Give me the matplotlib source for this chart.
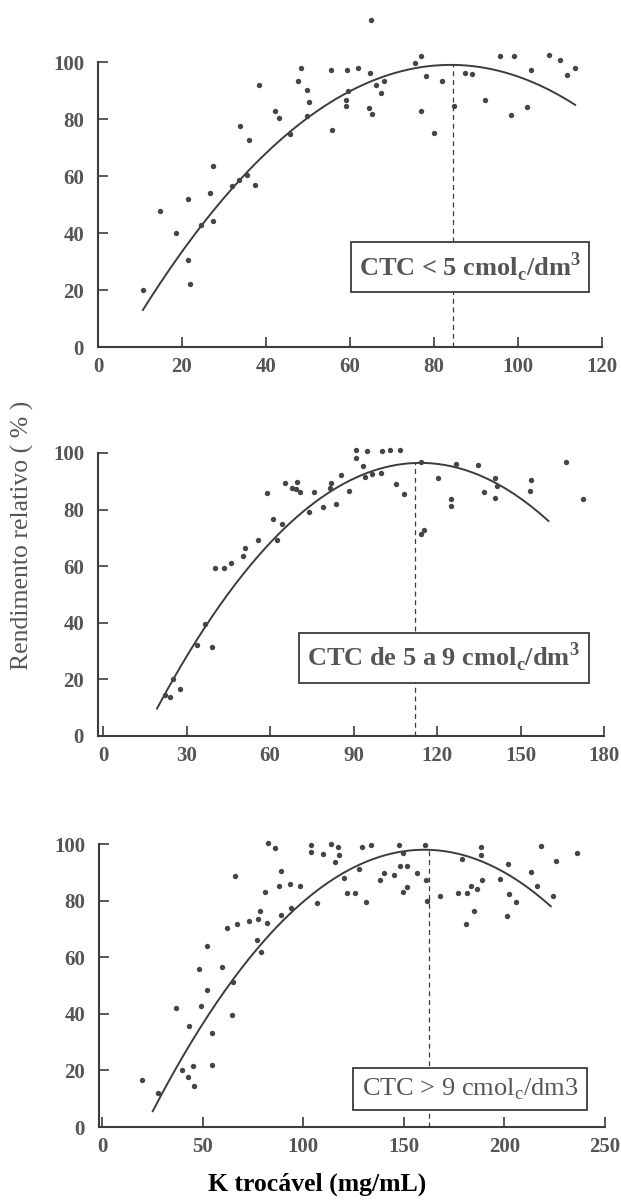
import numpy as np
import matplotlib
matplotlib.use('Agg')
import matplotlib.pyplot as plt

plt.rcParams['font.family'] = ['Liberation Serif', 'DejaVu Serif']
plt.rcParams['mathtext.fontset'] = 'custom'
plt.rcParams['mathtext.rm'] = 'Liberation Serif'

# painel 1: CTC < 5
x1 = [10.8, 14.8, 18.5, 21.4, 21.4, 21.9, 24.6, 26.7, 27.3, 27.5, 31.8, 33.6, 35.5, 37.5,
      33.9, 36.0, 38.4, 42.2, 43.0, 45.7, 47.6, 48.3, 49.8, 50.2, 49.8, 55.4, 55.8, 59.3,
      59.6, 59.0, 59.0, 61.9, 64.8, 65.1, 66.1, 68.1, 67.3, 64.5, 65.3, 75.5, 76.9, 78.2,
      76.9, 80.1, 82.0, 84.7, 87.4, 89.0, 92.2, 95.8, 99.0, 98.4, 102.2, 103.2, 107.5,
      110.0, 111.7, 113.5]
y1 = [20.0, 47.6, 40.0, 52.1, 30.7, 22.2, 42.7, 53.9, 44.1, 63.5, 56.5, 58.5, 60.2, 57.0,
      77.7, 72.6, 92.0, 82.7, 80.4, 74.9, 93.5, 98.0, 90.3, 86.1, 81.1, 97.1, 76.1, 97.1,
      89.8, 86.6, 84.5, 98.0, 96.1, 114.9, 91.8, 93.4, 89.2, 83.9, 81.7, 99.7, 102.0, 95.1,
      82.8, 75.2, 93.4, 84.7, 96.1, 95.9, 86.8, 102.0, 102.0, 81.5, 84.3, 97.2, 102.3,
      100.8, 95.6, 98.0]

# painel 2: CTC de 5 a 9
x2 = [22.3, 24.1, 25.3, 27.5, 33.7, 36.8, 39.0, 40.1, 43.6, 46.0, 50.4, 50.9, 55.8, 61.0,
      64.2, 62.5, 58.8, 65.2, 68.0, 69.6, 69.4, 70.9, 74.0, 75.8, 79.2, 81.4, 81.9, 83.7,
      85.5, 88.3, 90.9, 94.8, 90.7, 93.3, 94.1, 96.8, 99.7, 100.1, 103.2, 106.7, 105.4,
      108.1, 114.3, 114.2, 115.4, 120.5, 124.9, 124.9, 126.8, 134.7, 136.7, 140.9, 141.7,
      140.8, 153.3, 153.9, 166.4, 172.5]
y2 = [14.4, 13.8, 20.0, 16.5, 32.2, 39.4, 31.5, 59.2, 59.2, 61.2, 63.5, 66.6, 69.2, 76.7,
      75.0, 69.1, 85.7, 89.4, 87.6, 89.7, 87.3, 86.1, 79.2, 86.3, 80.9, 87.7, 89.4, 81.8,
      92.1, 86.7, 101.2, 100.7, 98.1, 95.3, 91.4, 92.5, 92.8, 100.7, 101.0, 101.0, 89.0,
      85.4, 96.9, 71.2, 72.8, 91.2, 83.9, 81.1, 96.2, 95.6, 86.3, 91.2, 88.2, 84.1, 86.6,
      90.6, 96.9, 83.6]

# painel 3: CTC > 9
x3 = [20.0, 27.9, 36.6, 39.7, 43.3, 42.5, 45.3, 45.5, 48.4, 49.0, 52.0, 52.2, 54.7, 54.7,
      59.7, 62.3, 64.6, 65.2, 66.0, 67.0, 73.1, 77.1, 77.7, 78.3, 79.1, 81.0, 82.0, 82.6,
      86.2, 88.7, 88.1, 89.1, 93.5, 93.7, 98.4, 104.0, 104.0, 106.7, 109.9, 113.6, 115.6,
      117.4, 117.8, 120.4, 121.5, 125.7, 127.9, 129.4, 131.0, 133.8, 138.3, 140.3, 145.1,
      147.6, 148.0, 149.8, 149.4, 151.8, 151.8, 156.7, 160.3, 161.1, 161.7, 167.8, 176.9,
      179.1, 180.8, 181.6, 183.6, 184.8, 186.4, 188.3, 188.3, 188.9, 197.6, 201.2, 201.8,
      202.2, 205.5, 213.4, 216.4, 218.0, 223.9, 225.5, 236.2]
y3 = [16.8, 12.1, 42.2, 20.3, 35.7, 17.6, 21.7, 14.4, 55.8, 42.7, 64.1, 48.5, 33.4, 21.9,
      56.4, 70.3, 39.6, 51.2, 88.6, 71.7, 72.8, 66.2, 73.4, 76.4, 62.0, 82.9, 72.2, 100.5,
      98.6, 90.4, 85.2, 74.8, 85.9, 77.3, 85.3, 99.7, 97.1, 79.2, 96.6, 99.9, 93.6, 98.8,
      96.0, 88.0, 82.6, 82.6, 91.1, 98.8, 79.6, 99.6, 87.3, 89.9, 88.9, 99.5, 92.2, 97.0,
      82.9, 92.2, 84.9, 89.7, 99.6, 87.3, 80.0, 81.7, 82.6, 94.8, 71.6, 82.6, 85.2, 76.4,
      84.1, 99.0, 96.0, 87.3, 87.7, 74.6, 93.0, 82.3, 79.4, 90.3, 85.3, 99.2, 81.7, 93.9,
      96.8]

# curvas ajustadas (parabola): y = ymax - a*(x - xmax)^2
curva1 = dict(xmax=84.0, ymax=99.0, a=0.0160, xi=10.7, xf=113.6, xd=84.5)
curva2 = dict(xmax=114.0, ymax=96.5, a=0.0097, xi=19.4, xf=160.0, xd=112.0)
curva3 = dict(xmax=160.2, ymax=98.0, a=0.00507, xi=25.2, xf=223.0, xd=162.5)

rotulos = [r'CTC < 5 cmol$_\mathregular{c}$/dm$^\mathregular{3}$',
           r'CTC de 5 a 9 cmol$_\mathregular{c}$/dm$^\mathregular{3}$',
           r'CTC > 9 cmol$_\mathregular{c}$/dm3']
pesos = ['bold', 'bold', 'normal']

xticks = [np.arange(0, 121, 20), np.arange(0, 181, 30), np.arange(0, 251, 50)]
xlims = [(0, 120), (-1.8, 180), (-1.5, 250)]
posicoes = [[0.1578, 0.7108, 0.8116, 0.2375],
            [0.1578, 0.3867, 0.8150, 0.2358],
            [0.1594, 0.0608, 0.8150, 0.2358]]
caixas = [(0.738, 0.281), (0.683, 0.276), (0.733, 0.134)]

cinza = '#3c3c3c'
cinza_txt = '#555555'

fig = plt.figure(figsize=(6.21, 12), dpi=100)

dados = [(x1, y1, curva1), (x2, y2, curva2), (x3, y3, curva3)]
for i, (xs, ys, c) in enumerate(dados):
    ax = fig.add_axes(posicoes[i])
    ax.scatter(xs, ys, s=15, color='#454545', linewidths=0, clip_on=False, zorder=3)

    xc = np.linspace(c['xi'], c['xf'], 200)
    yc = c['ymax'] - c['a'] * (xc - c['xmax']) ** 2
    ax.plot(xc, yc, color=cinza, lw=1.4, zorder=2)

    ytopo = c['ymax'] - c['a'] * (c['xd'] - c['xmax']) ** 2
    ax.plot([c['xd'], c['xd']], [0, ytopo], color=cinza, lw=0.9,
            linestyle=(0, (4, 3)), zorder=1)

    ax.text(caixas[i][0], caixas[i][1], rotulos[i], transform=ax.transAxes,
            ha='center', va='center', fontsize=19, fontweight=pesos[i], color=cinza_txt,
            bbox=dict(boxstyle='square,pad=0.32', facecolor='white', edgecolor=cinza, lw=1.3),
            zorder=4)

    ax.set_xlim(*xlims[i])
    ax.set_ylim(0, 100)
    ax.set_xticks(xticks[i])
    ax.set_yticks(np.arange(0, 101, 20))
    for lado in ['top', 'right']:
        ax.spines[lado].set_visible(False)
    for lado in ['left', 'bottom']:
        ax.spines[lado].set_color(cinza)
        ax.spines[lado].set_linewidth(1.5)
    ax.tick_params(direction='in', length=7, width=1.2, color=cinza,
                   labelsize=15, labelcolor=cinza_txt)
    ax.tick_params(axis='x', pad=7)
    ax.tick_params(axis='y', pad=10)
    for t in ax.get_xticklabels() + ax.get_yticklabels():
        t.set_fontweight('bold')

fig.text(22 / 621, 1 - 535 / 1200, 'Rendimento relativo ( % )', rotation=90,
         ha='center', va='center', fontsize=18.5, color=cinza_txt)
fig.text(317 / 621, 1 - 1184 / 1200, 'K trocável (mg/mL)', ha='center', va='center',
         fontsize=18.5, fontweight='bold', color='black')

fig.savefig('out.png', dpi=100)
